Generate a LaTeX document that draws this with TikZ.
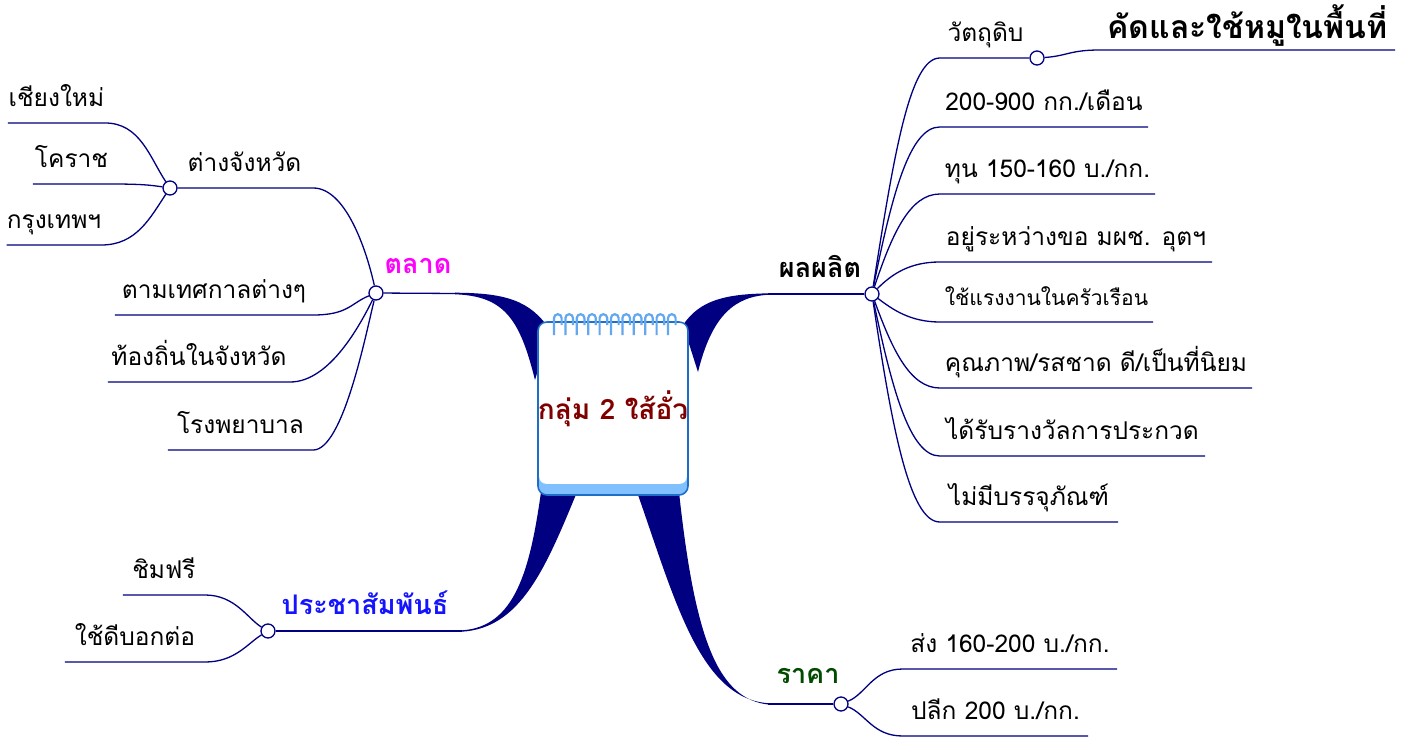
\documentclass[tikz,border=0pt]{standalone}
\usepackage{fontspec}
\setmainfont[Script=Thai]{Loma}
\usetikzlibrary{backgrounds}
\definecolor{navy}{RGB}{0,0,128}
\definecolor{edgeblue}{RGB}{30,110,200}
\definecolor{paperblue}{RGB}{128,192,255}
\definecolor{titlered}{RGB}{128,0,0}
\definecolor{marketpink}{RGB}{255,0,255}
\definecolor{promoblue}{RGB}{20,20,255}
\definecolor{pricegreen}{RGB}{0,75,0}

\begin{document}
\begin{tikzpicture}[x=1pt, y=-1pt,
    knot/.style={circle, draw=navy, fill=white, line width=1.3pt, minimum size=14pt, inner sep=0pt},
    link/.style={draw=navy, line width=1.3pt},
    taper/.style={fill=navy},
    topic/.style={font=\fontsize{24.5}{28}\selectfont, inner sep=0pt, text height=20pt, text depth=16pt, anchor=south},
    main/.style={font=\bfseries\fontsize{27}{30}\selectfont, inner sep=0pt},
    notebook/.style={rectangle, rounded corners=9pt, draw=edgeblue, line width=1.6pt, fill=paperblue, minimum width=150pt, minimum height=173pt},
    ring/.style={draw=paperblue!70!edgeblue, line width=2.2pt}]
    \useasboundingbox (0,0) rectangle (1410,738);

    \node (root) [notebook] at (613,408.5) {};
    \fill[white, rounded corners=7pt] ([shift={(2,2)}]root.north west) rectangle ([shift={(-2,-12)}]root.south east);
    \node (title) [font=\bfseries\fontsize{28}{32}\selectfont, text=titlered] at (root) {กลุ่ม 2 ใส้อั่ว};
    \foreach \k in {0,...,10}
        \draw[ring] ({554+11.4*\k},335) -- ({554+11.4*\k},318) arc[start angle=180, end angle=360, radius=3.8] -- ++(0,7);

    % main branches
    \node (mk) [knot] at (376,293) {};
    \node (pd) [knot] at (872,294) {};
    \node (pr) [knot] at (268,631) {};
    \node (pc) [knot] at (841,704) {};
    \coordinate (mkj) at (456,293.5);
    \coordinate (pdj) at (768,294);
    \coordinate (prj) at (462,631);
    \coordinate (pcj) at (768,704);
    \begin{scope}[on background layer]
        \fill[taper] (550,330) .. controls (530,300) and (505,293) .. (455,292.7) -- (455,294.3) .. controls (505,296) and (520,320) .. (535,380) -- cycle;
        \fill[taper] (683,325) .. controls (700,300) and (725,294) .. (770,293.3) -- (770,294.7) .. controls (735,296) and (712,315) .. (698,372) -- cycle;
        \fill[taper] (541,492) .. controls (530,570) and (515,627) .. (462,630.3) -- (462,631.7) .. controls (520,628) and (545,570) .. (577,492) -- cycle;
        \fill[taper] (637,492) .. controls (675,600) and (700,700) .. (770,703.3) -- (770,704.7) .. controls (718,700) and (695,640) .. (679,492) -- cycle;
    \end{scope}
    \draw[link] (mk) -- (mkj);
    \draw[link] (pd) -- (pdj);
    \draw[link] (pr) -- (prj);
    \draw[link] (pc) -- (pcj);
    \node (mkt) [main, text=marketpink] at (418,266) {ตลาด};
    \node (pdt) [main] at (820,266) {ผลผลิต};
    \node (prt) [main, text=promoblue] at (365,603) {ประชาสัมพันธ์};
    \node (pct) [main, text=pricegreen] at (808,676) {ราคา};

    % market
    \node (prov) [knot] at (170,188) {};
    \node (provt) [topic, minimum width=137pt] at (244.5,188) {ต่างจังหวัด};
    \draw[link] (prov) -- (provt.south east) .. controls +(32,0) and +(-10,-45) .. (mk);
    \node (cm) [topic, minimum width=97pt] at (56.5,123) {เชียงใหม่};
    \draw[link] (cm.south west) -- (cm.south east) .. controls +(35,0) and +(-20,-30) .. (prov);
    \node (kr) [topic, minimum width=77pt] at (71.5,184) {โคราช};
    \draw[link] (kr.south west) -- (kr.south east) .. controls +(30,0) and +(-20,-3) .. (prov);
    \node (bk) [topic, minimum width=92pt] at (54,245) {กรุงเทพฯ};
    \draw[link] (bk.south west) -- (bk.south east) .. controls +(35,0) and +(-20,30) .. (prov);
    \node (fest) [topic, minimum width=198pt] at (214,315) {ตามเทศกาลต่างๆ};
    \draw[link] (fest.south west) -- (fest.south east) .. controls +(35,0) and +(-25,10) .. (mk);
    \node (local) [topic, minimum width=182pt] at (199,382) {ท้องถิ่นในจังหวัด};
    \draw[link] (local.south west) -- (local.south east) .. controls +(40,0) and +(-15,30) .. (mk);
    \node (hosp) [topic, minimum width=145pt] at (240.5,450) {โรงพยาบาล};
    \draw[link] (hosp.south west) -- (hosp.south east) .. controls +(30,0) and +(-10,40) .. (mk);

    % product
    \node (raw) [knot] at (1037,58) {};
    \node (rawt) [topic, minimum width=91pt] at (985.5,58) {วัตถุดิบ};
    \draw[link] (pd) .. controls +(22,-140) and +(-30,0) .. (rawt.south west) -- (raw);
    \node (cut) [topic, font=\bfseries\fontsize{32}{36}\selectfont, text height=26pt, text depth=11pt, minimum width=295pt] at (1247.5,50) {คัดและใช้หมูในพื้นที่};
    \draw[link] (raw) .. controls +(30,-2) and +(-30,0) .. (cut.south west) -- (cut.south east);
    \node (qty) [topic, minimum width=208pt] at (1044,127) {200-900 กก./เดือน};
    \draw[link] (pd) .. controls +(20,-100) and +(-30,0) .. (qty.south west) -- (qty.south east);
    \node (cost) [topic, minimum width=215pt] at (1047.5,194) {ทุน 150-160 บ./กก.};
    \draw[link] (pd) .. controls +(20,-60) and +(-30,0) .. (cost.south west) -- (cost.south east);
    \node (std) [topic, minimum width=272pt] at (1076,262) {อยู่ระหว่างขอ มผช. อุตฯ};
    \draw[link] (pd) .. controls +(20,-20) and +(-30,0) .. (std.south west) -- (std.south east);
    \node (labor) [topic, font=\fontsize{21}{24}\selectfont, minimum width=213pt] at (1046.5,322) {ใช้แรงงานในครัวเรือน};
    \draw[link] (pd) .. controls +(20,15) and +(-30,0) .. (labor.south west) -- (labor.south east);
    \node (qual) [topic, minimum width=312pt] at (1096,388) {คุณภาพ/รสชาด ดี/เป็นที่นิยม};
    \draw[link] (pd) .. controls +(20,55) and +(-30,0) .. (qual.south west) -- (qual.south east);
    \node (award) [topic, minimum width=265pt] at (1072.5,456) {ได้รับรางวัลการประกวด};
    \draw[link] (pd) .. controls +(20,95) and +(-30,0) .. (award.south west) -- (award.south east);
    \node (pack) [topic, minimum width=178pt] at (1029,522) {ไม่มีบรรจุภัณฑ์};
    \draw[link] (pd) .. controls +(20,135) and +(-30,0) .. (pack.south west) -- (pack.south east);

    % promotion
    \node (taste) [topic, minimum width=82pt] at (164,595) {ชิมฟรี};
    \draw[link] (taste.south west) -- (taste.south east) .. controls +(30,0) and +(-20,-12) .. (pr);
    \node (word) [topic, minimum width=140pt] at (135,662) {ใช้ดีบอกต่อ};
    \draw[link] (word.south west) -- (word.south east) .. controls +(30,0) and +(-20,12) .. (pr);

    % price
    \node (whole) [topic, minimum width=214pt] at (1010,669) {ส่ง 160-200 บ./กก.};
    \draw[link] (pc) .. controls +(25,-10) and +(-30,0) .. (whole.south west) -- (whole.south east);
    \node (retail) [topic, minimum width=185pt] at (995.5,736) {ปลีก 200 บ./กก.};
    \draw[link] (pc) .. controls +(25,10) and +(-30,0) .. (retail.south west) -- (retail.south east);
\end{tikzpicture}
\end{document}
